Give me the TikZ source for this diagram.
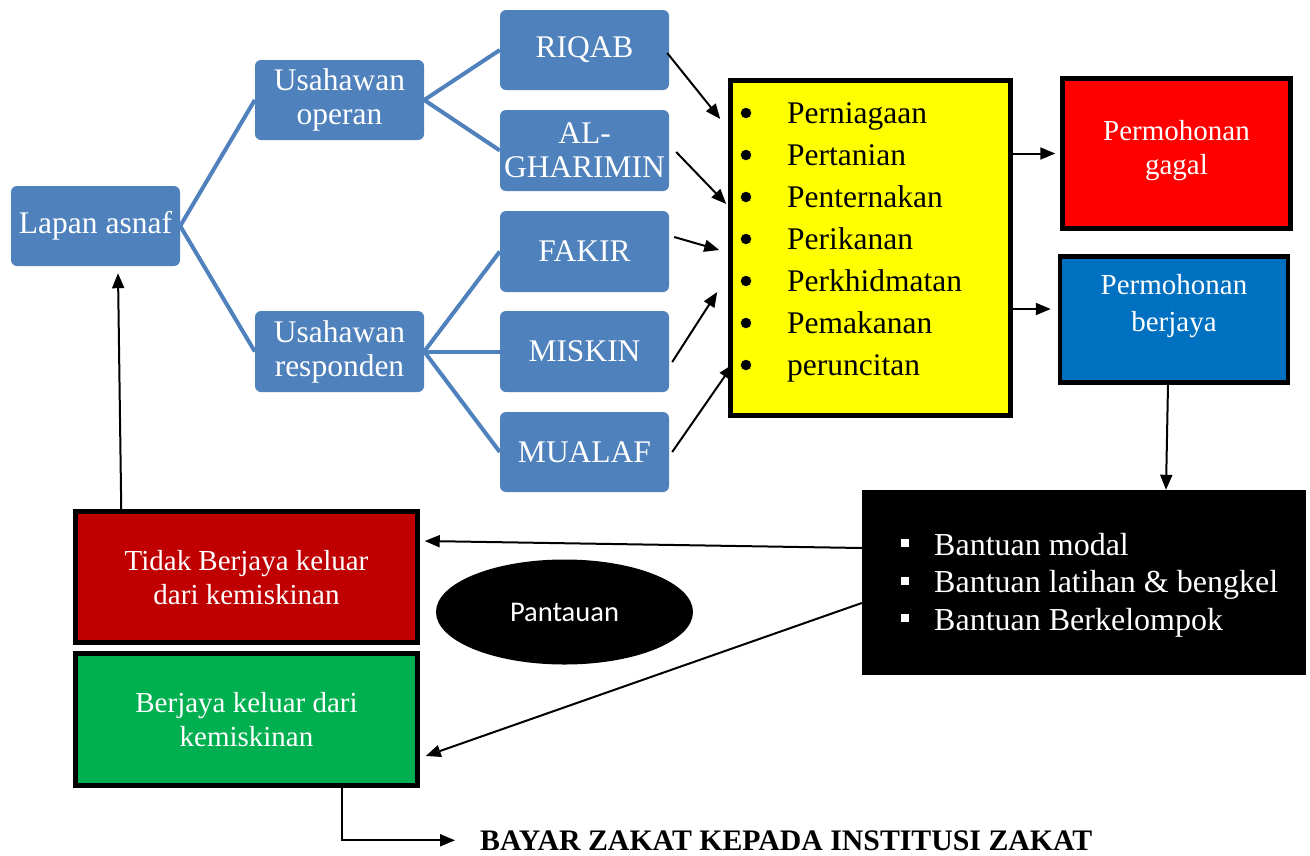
\documentclass[tikz,border=0pt]{standalone}
\usepackage{fontspec}
\setmainfont{Liberation Serif}
\newfontfamily\calib{Carlito}
\usetikzlibrary{arrows.meta,calc,shapes.geometric}
\definecolor{sblue}{HTML}{4F81BD}
\definecolor{pyellow}{HTML}{FFFF00}
\definecolor{pred}{HTML}{FF0000}
\definecolor{pblue}{HTML}{0070C0}
\definecolor{dred}{HTML}{C00000}
\definecolor{pgreen}{HTML}{00B050}
\tikzset{
 sbox/.style={rectangle, rounded corners=6pt, fill=sblue, text=white, align=center, minimum width=169pt, minimum height=80pt, inner sep=0pt, font=\fontsize{31.5}{34}\selectfont},
 tline/.style={draw=sblue, line width=4pt},
 obox/.style={rectangle, draw=black, line width=4.5pt, inner sep=0pt, align=center},
 arr/.style={-{Triangle[length=15pt,width=12pt]}, line width=2pt, draw=black},
 ltxt/.style={inner sep=0pt, font=\fontsize{31.5}{34}\selectfont},
 wtxt/.style={text=white, inner sep=0pt, align=center, font=\fontsize{29}{34}\selectfont},
 sqb/.style={fill=white, minimum size=8pt, inner sep=0pt},
 dotb/.style={circle, fill=black, minimum size=10.5pt, inner sep=0pt},
}
\begin{document}
\begin{tikzpicture}[x=1pt,y=-1pt]
\useasboundingbox (0,0) rectangle (1310,855);
\fill[white] (0,0) rectangle (1310,855);

% blue tree
\node[sbox] (lapan) at (95.5,226) {Lapan asnaf};
\node[sbox] (operan) at (339.5,100) {Usahawan\\operan};
\node[sbox, minimum height=81pt] (respon) at (339.5,351.5) {Usahawan\\responden};
\node[sbox] (riqab) at (584.5,50) {RIQAB};
\node[sbox, minimum height=81pt] (algh) at (584.5,150.5) {AL-\\GHARIMIN};
\node[sbox, minimum height=81pt] (fakir) at (584.5,251.5) {FAKIR};
\node[sbox, minimum height=81pt] (miskin) at (584.5,351.5) {MISKIN};
\node[sbox] (mualaf) at (584.5,452) {MUALAF};

\draw[tline] (lapan.east) -- (operan.west);
\draw[tline] (lapan.east) -- (respon.west);
\draw[tline] (operan.east) -- (riqab.west);
\draw[tline] (operan.east) -- (algh.west);
\draw[tline] (respon.east) -- (fakir.west);
\draw[tline] (respon.east) -- (miskin.west);
\draw[tline] (respon.east) -- (mualaf.west);

% yellow list
\node[obox, fill=pyellow, minimum width=280pt, minimum height=335pt] (yel) at (870.5,248) {};
\foreach \t [count=\i] in {Perniagaan,Pertanian,Penternakan,Perikanan,Perkhidmatan,Pemakanan,peruncitan} {
  \node[dotb] (bul\i) at (746,{71+42*\i}) {};
  \node[ltxt, anchor=base west] (item\i) at (787,{81+42*\i}) {\t};
}

% result boxes
\node[obox, fill=pred, minimum width=228pt, minimum height=150pt] (gagal) at (1176.5,153.5) {};
\node[wtxt] (gagaltxt) at (1176.5,151) {Permohonan\\gagal};
\node[obox, fill=pblue, minimum width=228pt, minimum height=126pt] (berjaya) at (1174,319.5) {};
\node[wtxt, font=\fontsize{29}{37}\selectfont] (berjayatxt) at (1174,306) {Permohonan\\berjaya};

% black box
\node[fill=black, minimum width=444pt, minimum height=185pt, inner sep=0pt] (bantuan) at (1084,582.5) {};
\foreach \t [count=\i] in {Bantuan modal,Bantuan latihan \& bengkel,Bantuan Berkelompok} {
  \node[sqb] (sq\i) at (905,{505.5+37.5*\i}) {};
  \node[ltxt, text=white, anchor=base west, font=\fontsize{32}{34}\selectfont] (bt\i) at (934,{517.5+37.5*\i}) {\t};
}

% bottom-left boxes
\node[obox, fill=dred, minimum width=342pt, minimum height=131pt] (tidak) at (246.5,577) {};
\node[wtxt] (tidaktxt) at (246.5,578) {Tidak Berjaya keluar\\dari kemiskinan};
\node[obox, fill=pgreen, minimum width=342pt, minimum height=132pt] (green) at (246.5,719.5) {};
\node[wtxt] (greentxt) at (246.5,720) {Berjaya keluar dari\\kemiskinan};

\node[ellipse, fill=black, minimum width=257pt, minimum height=105pt, inner sep=0pt, text=white, font=\calib\fontsize{28.5}{32}\selectfont] (pantau) at (564.5,612) {Pantauan};

\node[inner sep=0pt, anchor=base west, font=\bfseries\fontsize{29.8}{32}\selectfont] (bayar) at (480,850) {BAYAR ZAKAT KEPADA INSTITUSI ZAKAT};

% arrows into yellow
\draw[arr] ($(riqab.east)+(-2,3)$) -- ($(yel.west)+(-8,-129)$);
\draw[arr] ($(algh.east)+(7,1.5)$) -- ($(yel.west)+(-2,-44)$);
\draw[arr] ($(fakir.east)+(5,-14.5)$) -- ($(yel.west)+(-9,2)$);
\draw[arr] ($(miskin.east)+(3,10.5)$) -- ($(yel.west)+(-11,44)$);
\draw[arr] ($(mualaf.east)+(3,0)$) -- ($(yel.west)+(5,116)$);

% yellow to results
\draw[arr] ($(yel.east)+(0,-94.5)$) -- ($(gagal.west)+(-5,0)$);
\draw[arr] ($(yel.east)+(-3,61)$) -- ($(berjaya.west)+(-7,-10.5)$);

% results to black
\draw[arr] ($(berjaya.south)+(-6,0)$) -- ($(bantuan.north)+(82,0)$);

% black to outcomes
\draw[arr] ($(bantuan.west)+(0,-34.5)$) -- ($(tidak.east)+(5,-36)$);
\draw[arr] ($(bantuan.west)+(0,20.5)$) -- ($(green.east)+(6,36.5)$);

% loop back
\draw[arr] ($(tidak.north west)+(48,0)$) -- ($(lapan.south)+(22.5,7)$);

% bayar zakat
\draw[arr] ($(green.south)+(95.5,0)$) |- ($(bayar.west)+(-25,0)$);
\end{tikzpicture}
\end{document}
